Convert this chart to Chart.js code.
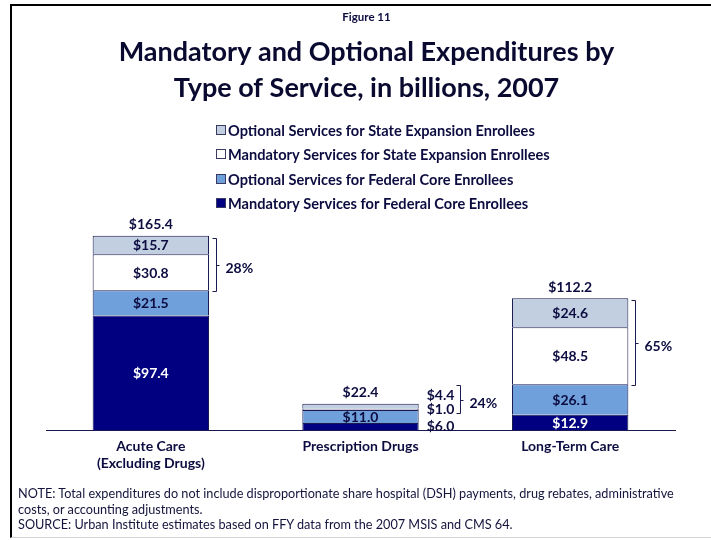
<!DOCTYPE html>
<html>
<head>
<meta charset="utf-8">
<script src="https://cdn.jsdelivr.net/npm/chart.js@4/dist/chart.umd.min.js"></script>
<style>
  html, body { margin: 0; padding: 0; background: #fff; overflow: hidden; }
  #page { position: relative; width: 711px; height: 540px; }
  #frame {
    position: absolute; left: 10px; top: 4px; width: 760px; height: 531px;
    border-top: 2px solid #000; border-left: 2px solid #000; border-bottom: 1px solid #d4d4d4;
  }
  #chart { position: absolute; left: 0; top: 0; }
  #notes {
    position: absolute; left: 18px; top: 486px;
    font: 12.7px Lato, sans-serif; line-height: 15.5px; color: #14143c; white-space: nowrap;
  }
</style>
</head>
<body>
<div id="page">
  <div id="frame"></div>
  <canvas id="chart" width="711" height="540"></canvas>
  <div id="notes">NOTE: Total expenditures do not include disproportionate share hospital (DSH) payments, drug rebates, administrative<br>costs, or accounting adjustments.<br>SOURCE: Urban Institute estimates based on FFY data from the 2007 MSIS and CMS 64.</div>
</div>
<script>
// spending by type of service, billions of dollars
const categories = [['Acute Care', '(Excluding Drugs)'], 'Prescription Drugs', 'Long-Term Care'];
const mandatoryCore = [97.4, 6.0, 12.9];
const optionalCore = [21.5, 11.0, 26.1];
const mandatoryExpansion = [30.8, 1.0, 48.5];
const optionalExpansion = [15.7, 4.4, 24.6];
const totals = [165.4, 22.4, 112.2];

const seriesNames = [
  'Mandatory Services for Federal Core Enrollees',
  'Optional Services for Federal Core Enrollees',
  'Mandatory Services for State Expansion Enrollees',
  'Optional Services for State Expansion Enrollees',
];
const seriesColors = ['#000080', '#70a0dc', '#ffffff', '#c2cfe0'];
const navy = '#0c0c40';

Chart.defaults.font.family = 'Lato, sans-serif';
Chart.defaults.color = navy;

// share of each column that goes to state expansion enrollees
const expansionShare = totals.map((t, j) =>
  Math.round((mandatoryExpansion[j] + optionalExpansion[j]) / t * 100) + '%');

// legend drawn as one left-aligned column, top series first
const stackedLegend = {
  id: 'stackedLegend',
  afterDraw(chart, args, opts) {
    const ctx = chart.ctx;
    const ds = chart.data.datasets;
    ctx.save();
    ctx.font = 'bold ' + opts.fontSize + 'px Lato';
    ctx.textBaseline = 'middle';
    ctx.lineWidth = 1;
    for (let k = 0; k < ds.length; k++) {
      const d = ds[ds.length - 1 - k];
      const y = Math.round(opts.top + k * opts.rowHeight);
      ctx.fillStyle = d.backgroundColor;
      ctx.fillRect(opts.left + 0.5, y - 4.5, 9, 9);
      ctx.strokeStyle = '#3a3a60';
      ctx.strokeRect(opts.left + 0.5, y - 4.5, 9, 9);
      ctx.fillStyle = navy;
      ctx.fillText(d.label, opts.left + 12, y + 1);
    }
    ctx.restore();
  }
};

// segment values, column totals and the expansion brackets
const valueLabels = {
  id: 'valueLabels',
  afterDatasetsDraw(chart) {
    const ctx = chart.ctx;
    const ds = chart.data.datasets;
    const metas = ds.map((d, i) => chart.getDatasetMeta(i));
    ctx.save();
    ctx.font = 'bold 14px Lato';
    ctx.textBaseline = 'middle';
    ctx.lineWidth = 1;
    ctx.strokeStyle = '#1a1a50';

    categories.forEach((c, j) => {
      let lastY = Infinity;
      const outside = [];
      metas.forEach((meta, i) => {
        const bar = meta.data[j];
        const v = ds[i].data[j];
        const label = '$' + v.toFixed(1);
        const mid = (bar.y + bar.base) / 2;
        if (bar.base - bar.y >= 10) {
          ctx.textAlign = 'center';
          ctx.fillStyle = i === 0 ? '#ffffff' : navy;
          ctx.fillText(label, bar.x, mid + 1);
        } else {
          // thin slices get their label beside the bar, pushed up to avoid overlap
          const y = Math.min(mid, lastY - 13.5);
          lastY = y;
          const x = bar.x + bar.width / 2 + 8;
          ctx.textAlign = 'left';
          ctx.fillStyle = navy;
          ctx.fillText(label, x, y);
          outside.push({ i, y, right: x + ctx.measureText(label).width });
        }
      });

      const topBar = metas[metas.length - 1].data[j];
      ctx.textAlign = 'center';
      ctx.fillStyle = navy;
      ctx.fillText('$' + totals[j].toFixed(1), topBar.x, topBar.y - 11);

      // bracket around the two expansion series
      const aside = outside.filter(o => o.i >= 2);
      let bx, top, bottom;
      if (aside.length) {
        bx = Math.max(...aside.map(o => o.right)) + 6;
        top = Math.min(...aside.map(o => o.y)) - 11;
        bottom = Math.max(...aside.map(o => o.y)) + 4;
      } else {
        const upper = metas[3].data[j];
        const lower = metas[2].data[j];
        bx = upper.x + upper.width / 2 + 7;
        top = upper.y + 2;
        bottom = lower.base + 1;
      }
      bx = Math.round(bx) + 0.5;
      top = Math.round(top) + 0.5;
      bottom = Math.round(bottom) + 0.5;
      const mid = Math.round((top + bottom) / 2) + 0.5;
      ctx.beginPath();
      ctx.moveTo(bx - 4, top);
      ctx.lineTo(bx, top);
      ctx.lineTo(bx, bottom);
      ctx.lineTo(bx - 4, bottom);
      ctx.moveTo(bx, mid);
      ctx.lineTo(bx + 3, mid);
      ctx.stroke();
      ctx.textAlign = 'left';
      ctx.fillText(expansionShare[j], bx + 9, mid + 3);
    });
    ctx.restore();
  }
};

const seriesData = [mandatoryCore, optionalCore, mandatoryExpansion, optionalExpansion];

new Chart(document.getElementById('chart'), {
  type: 'bar',
  data: {
    labels: categories,
    datasets: seriesData.map((values, i) => ({
      label: seriesNames[i],
      data: values,
      backgroundColor: seriesColors[i],
      borderColor: '#1a1a50',
      borderWidth: 1,
      categoryPercentage: 1,
      barPercentage: 0.555,
    })),
  },
  options: {
    responsive: false,
    animation: false,
    devicePixelRatio: 1,
    layout: { padding: { left: 46, right: 24, top: 0, bottom: 61 } },
    scales: {
      x: {
        stacked: true,
        grid: { display: false, drawTicks: false },
        border: { display: true, color: '#1a1a50', width: 1 },
        ticks: {
          padding: 7.5,
          color: navy,
          font: { size: 14, weight: 'bold', lineHeight: 17 / 14 },
        },
      },
      y: {
        // blank axis on the right, only there to keep the headings centred over the page
        stacked: true,
        position: 'right',
        min: 0,
        max: 180,
        ticks: { display: false },
        grid: { display: false, drawTicks: false },
        border: { display: false },
        afterFit(scale) { scale.width = 12; },
      },
    },
    plugins: {
      legend: { display: false },
      tooltip: { enabled: false },
      title: {
        display: true,
        text: 'Figure 11',
        color: navy,
        font: { size: 11.5, weight: 'bold', lineHeight: 1.2 },
        padding: { top: 10, bottom: 0 },
      },
      subtitle: {
        display: true,
        text: ['Mandatory and Optional Expenditures by', 'Type of Service, in billions, 2007'],
        color: '#0a0a30',
        font: { size: 27, weight: 'bold', lineHeight: 36 / 27 },
        padding: { top: 10.8, bottom: 112 },
      },
      stackedLegend: { left: 216, top: 130, rowHeight: 24.3, fontSize: 14.6 },
    },
  },
  plugins: [stackedLegend, valueLabels],
});
</script>
</body>
</html>
